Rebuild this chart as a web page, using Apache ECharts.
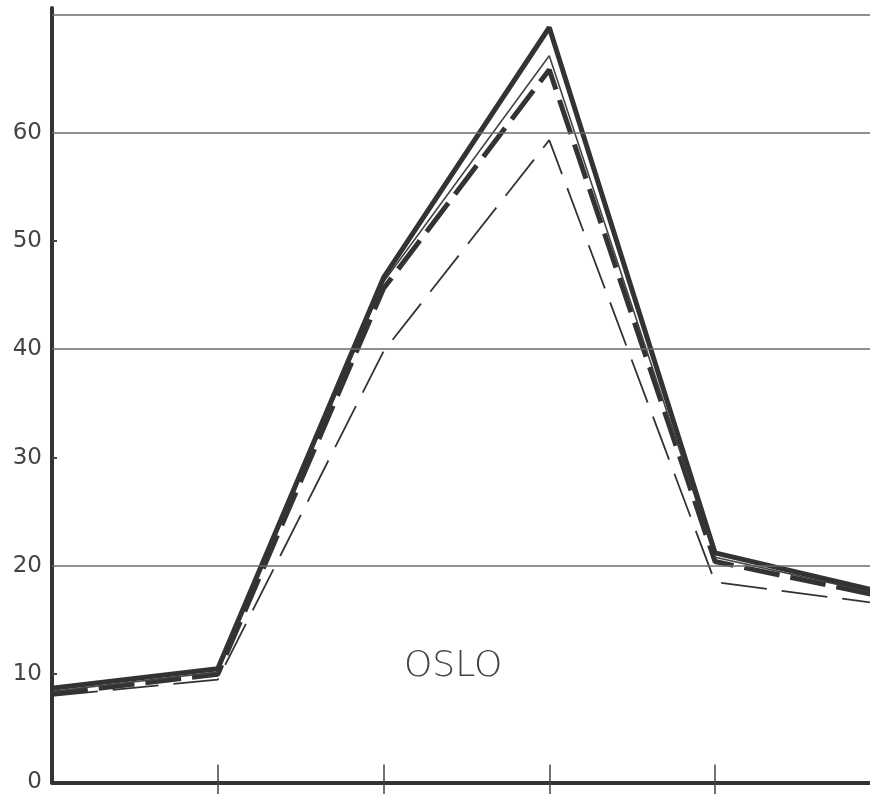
<!DOCTYPE html>
<html>
<head>
<meta charset="utf-8">
<script src="https://cdn.jsdelivr.net/npm/echarts@6/dist/echarts.min.js"></script>
<style>
html,body{margin:0;padding:0;background:#fff;}
#chart{width:870px;height:794px;}
</style>
</head>
<body>
<div id="chart"></div>
<script>
// Data
const categories = ['P1', 'P2', 'P3', 'P4', 'P5', 'P6'];
const thickSolid  = [8.7, 10.5, 46.6, 69.7, 21.2, 17.6];
const thinSolid   = [8.4, 10.2, 46.2, 67.1, 20.8, 17.4];
const thickDashed = [8.2, 10.0, 45.6, 65.8, 20.4, 17.2];
const thinDashed  = [8.0, 9.5, 39.8, 59.3, 18.5, 16.5];
const yTickLabels = [0, 10, 20, 30, 40, 50, 60];
const gridLines = [20, 40, 60, 70.9];
const chartLabel = 'OSLO';

// the last category lies just beyond the right edge of the picture
const xVisibleMax = 4.935;
const toPairs = arr => categories.map((c, i) => [i, arr[i]]);
const xTicks = categories.map((c, i) => i).filter(i => i > 0 && i < xVisibleMax);

const ink = '#333333';
const chart = echarts.init(document.getElementById('chart'), null, {renderer: 'canvas'});

const option = {
  backgroundColor: '#ffffff',
  animation: false,
  grid: {left: 52, right: 0, top: 8, bottom: 11, containLabel: false},
  xAxis: [
    {
      type: 'value', min: 0, max: xVisibleMax, interval: 1, position: 'bottom',
      axisLine: {show: true, onZero: false, lineStyle: {color: ink, width: 4}},
      axisTick: {show: true, inside: true, length: 18, customValues: xTicks, lineStyle: {color: '#444', width: 1.5}},
      axisLabel: {show: false}, splitLine: {show: false}
    },
    {
      type: 'value', min: 0, max: xVisibleMax, interval: 1, position: 'bottom', offset: 0,
      axisLine: {show: false},
      axisTick: {show: true, inside: false, length: 14, customValues: xTicks, lineStyle: {color: '#444', width: 1.5}},
      axisLabel: {show: false}, splitLine: {show: false}
    }
  ],
  yAxis: {
    type: 'value', min: 0, max: 71.5, interval: 10,
    axisLine: {show: true, onZero: false, lineStyle: {color: ink, width: 4}},
    axisTick: {show: true, inside: true, length: 5, customValues: [10, 30, 50], lineStyle: {color: '#444', width: 2}},
    axisLabel: {
      show: true, margin: 10, color: '#444', fontSize: 23,
      fontFamily: 'DejaVu Sans', fontWeight: 'normal',
      customValues: yTickLabels,
      formatter: function (v) { return yTickLabels.indexOf(v) >= 0 ? String(v) : ''; }
    },
    splitLine: {show: false}
  },
  graphic: [
    {
      type: 'text', left: 404, top: 649,
      style: {text: chartLabel, fill: '#444', font: '300 36px "DejaVu Sans"'}
    }
  ],
  series: [
    {
      name: 'grid', type: 'line', data: [], silent: true,
      markLine: {
        silent: true, symbol: ['none', 'none'], label: {show: false},
        lineStyle: {color: '#6a6a6a', width: 1.5, type: 'solid'},
        data: gridLines.map(v => ({yAxis: v}))
      }
    },
    {
      name: 'thin dashed', type: 'line', data: toPairs(thinDashed), showSymbol: false, symbol: 'none',
      lineStyle: {color: ink, width: 1.8, type: [46, 15]}
    },
    {
      name: 'thick dashed', type: 'line', data: toPairs(thickDashed), showSymbol: false, symbol: 'none',
      lineStyle: {color: ink, width: 5, type: [36, 11]}
    },
    {
      name: 'thin solid', type: 'line', data: toPairs(thinSolid), showSymbol: false, symbol: 'none',
      lineStyle: {color: '#444', width: 1.6}
    },
    {
      name: 'thick solid', type: 'line', data: toPairs(thickSolid), showSymbol: false, symbol: 'none',
      lineStyle: {color: ink, width: 5}
    }
  ]
};
chart.setOption(option);
</script>
</body>
</html>
